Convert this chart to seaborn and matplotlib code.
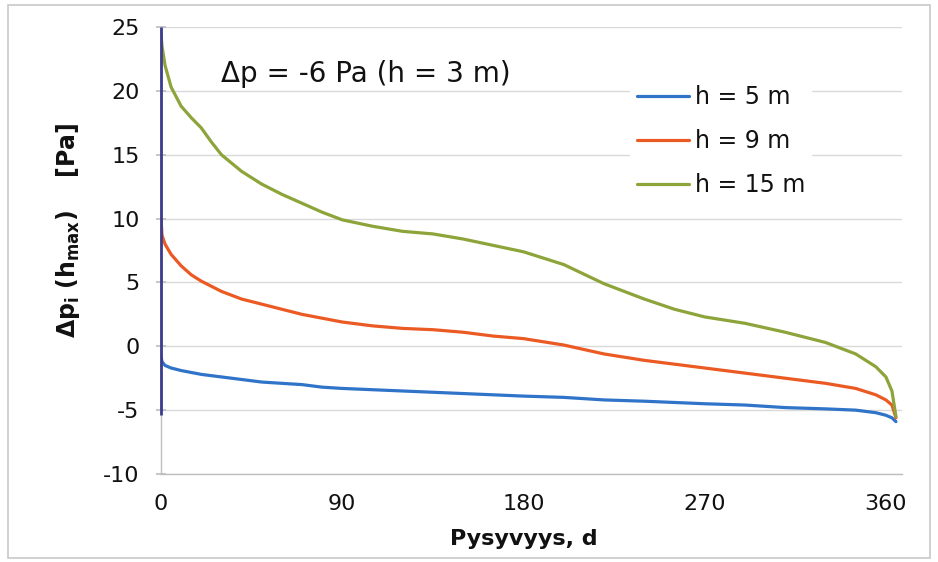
import matplotlib
matplotlib.use("Agg")
import matplotlib.pyplot as plt
import seaborn as sns
import pandas as pd
from matplotlib.patches import Rectangle
from matplotlib.ticker import MultipleLocator

# ---------------- data ----------------
days = [0, 0.5, 2, 5, 10, 15, 20, 25, 30, 40, 50, 60, 70, 80, 90, 105, 120, 135, 150,
        165, 180, 200, 220, 240, 255, 270, 290, 310, 330, 345, 355, 360, 363, 365]
h5 = [-0.8, -1.2, -1.5, -1.7, -1.9, -2.05, -2.2, -2.3, -2.4, -2.6, -2.8, -2.9, -3.0,
      -3.2, -3.3, -3.4, -3.5, -3.6, -3.7, -3.8, -3.9, -4.0, -4.2, -4.3, -4.4, -4.5,
      -4.6, -4.8, -4.9, -5.0, -5.2, -5.4, -5.6, -5.9]
h9 = [10.0, 8.7, 8.0, 7.2, 6.3, 5.6, 5.1, 4.7, 4.3, 3.7, 3.3, 2.9, 2.5, 2.2, 1.9,
      1.6, 1.4, 1.3, 1.1, 0.8, 0.6, 0.1, -0.6, -1.1, -1.4, -1.7, -2.1, -2.5, -2.9,
      -3.3, -3.8, -4.2, -4.6, -5.6]
h15 = [24.5, 23.5, 22.0, 20.3, 18.8, 17.9, 17.1, 16.0, 15.0, 13.7, 12.7, 11.9, 11.2,
       10.5, 9.9, 9.4, 9.0, 8.8, 8.4, 7.9, 7.4, 6.4, 4.9, 3.7, 2.9, 2.3, 1.8, 1.1,
       0.3, -0.6, -1.6, -2.4, -3.5, -5.5]
series_labels = ["h = 5 m", "h = 9 m", "h = 15 m"]
start_x = [0, 0]
start_y = [-5.4, 25]
x_tick_labels = [0, 90, 180, 270, 360]
y_ticks = [-10, -5, 0, 5, 10, 15, 20, 25]
annotation = "Δp = -6 Pa (h = 3 m)"

# ---------------- frame ----------------
df = pd.DataFrame({
    "day": days * 3,
    "dp": h5 + h9 + h15,
    "series": [series_labels[0]] * len(days) + [series_labels[1]] * len(days)
              + [series_labels[2]] * len(days),
})

sns.set_theme(style="white")
plt.rcParams["font.family"] = ["DejaVu Sans"]
plt.rcParams["mathtext.fontset"] = "dejavusans"
plt.rcParams["axes.unicode_minus"] = False

fig = plt.figure(figsize=(9.38, 5.62), dpi=100)
ax = fig.add_axes([161 / 938, 1 - 474 / 562, 741 / 938, 447 / 562])

palette = {series_labels[0]: "#2F74C8", series_labels[1]: "#EC5A24",
           series_labels[2]: "#8DA43A"}

ax.set_xlim(0, 368)
ax.set_ylim(-10, 25)
ax.set_yticks(y_ticks)
ax.yaxis.grid(True, color="#D9D9D9", linewidth=1.0)
ax.set_axisbelow(True)

sns.lineplot(data=df, x="day", y="dp", hue="series", palette=palette,
             linewidth=2.3, ax=ax, zorder=3)

ax.plot(start_x, start_y, color="#3C3C8C", linewidth=2.0, zorder=4,
        solid_capstyle="butt", clip_on=False)

# axes styling
for s in ["top", "right"]:
    ax.spines[s].set_visible(False)
for s in ["left", "bottom"]:
    ax.spines[s].set_color("#BFBFBF")
    ax.spines[s].set_linewidth(1.0)

ax.set_xticks(x_tick_labels)
ax.xaxis.set_minor_locator(MultipleLocator(30))
ax.tick_params(axis="x", which="major", direction="inout", length=9, color="#BFBFBF",
               labelsize=16, pad=10, labelcolor="#111111")
ax.tick_params(axis="x", which="minor", direction="inout", length=6, color="#BFBFBF")
ax.tick_params(axis="y", which="major", direction="inout", length=7, color="#BFBFBF",
               labelsize=16, pad=12, labelcolor="#111111", left=True)

ax.set_xlabel("Pysyvyys, d", fontsize=16, fontweight="bold", color="#111111")
ax.xaxis.set_label_coords(0.489, -0.122)
ax.set_ylabel(r"$\mathbf{\Delta p_i\ (h_{max})}$    [Pa]", fontsize=17,
              fontweight="bold", color="#111111")
ax.yaxis.set_label_coords(-0.106, 0.545)

ax.text(30, 21.3, annotation, fontsize=20, color="#111111", va="center", ha="left")

leg = ax.legend(loc="upper left", bbox_to_anchor=(0.617, 0.912), fontsize=17,
                frameon=True, handlelength=2.2, handletextpad=0.25,
                labelspacing=0.85, borderpad=0.3)
leg.get_frame().set_facecolor("white")
leg.get_frame().set_edgecolor("none")
leg.get_frame().set_alpha(1.0)
for t in leg.get_texts():
    t.set_color("#111111")

# chart border
fig.patches.append(Rectangle((8 / 938, 1 - 558 / 562), 922 / 938, 553 / 562,
                             transform=fig.transFigure, fill=False,
                             edgecolor="#C8C8C8", linewidth=1.2))

fig.savefig("out.png", dpi=100)
